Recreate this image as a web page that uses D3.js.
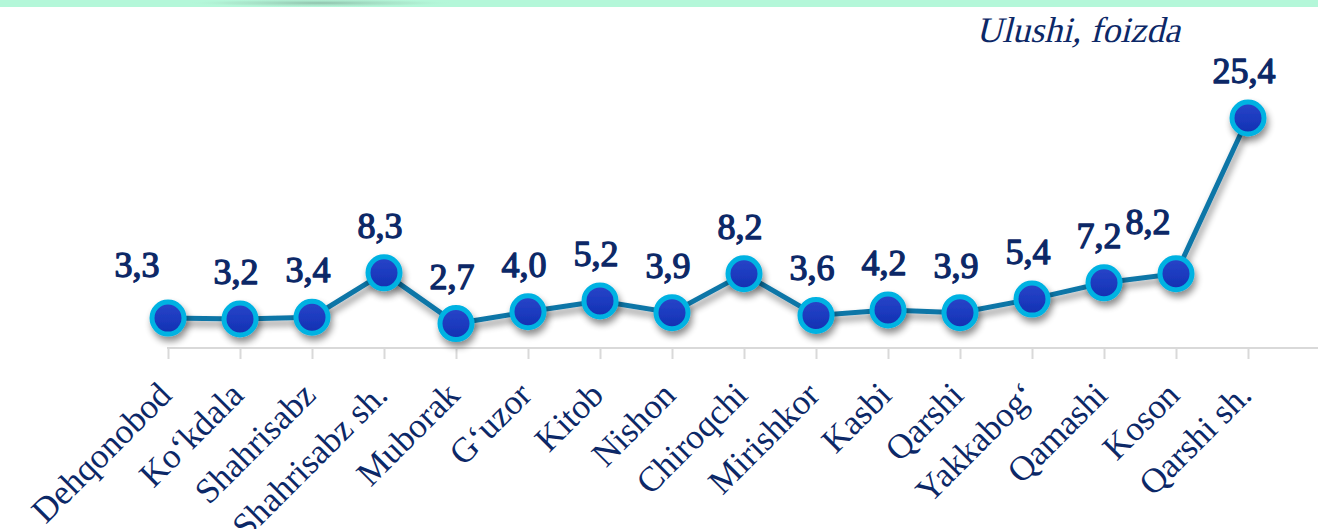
<!DOCTYPE html>
<html>
<head>
<meta charset="utf-8">
<script src="https://cdn.jsdelivr.net/npm/d3@7"></script>
</head>
<body style="margin:0">
<svg id="chart" width="1318" height="529" font-family="Liberation Serif"></svg>
<script>
// districts, in chart order
const districts = [
  'Dehqonobod', 'Ko‘kdala', 'Shahrisabz', 'Shahrisabz sh.', 'Muborak',
  'G‘uzor', 'Kitob', 'Nishon', 'Chiroqchi', 'Mirishkor', 'Kasbi',
  'Qarshi', 'Yakkabog‘', 'Qamashi', 'Koson', 'Qarshi sh.'
]
// share, percent
const shares = [3.3, 3.2, 3.4, 8.3, 2.7, 4.0, 5.2, 3.9, 8.2, 3.6, 4.2, 3.9, 5.4, 7.2, 8.2, 25.4]
const unitLabel = 'Ulushi, foizda'

// a few labels are moved aside in the original so they don't collide
const labelNudge = { 0: [-27, -6], 13: [-1, 0], 14: [-24, -5] }

const width = 1318
const navy = '#0c2867'
const font = 'Liberation Serif'

const svg = d3.select('#chart')
const defs = svg.append('defs')

// top mint band with a soft curved shadow
const bandGrad = defs.append('radialGradient').attr('id', 'bandShade')
bandGrad.append('stop').attr('offset', '0%').attr('stop-color', '#86b3a0').attr('stop-opacity', 0.8)
bandGrad.append('stop').attr('offset', '70%').attr('stop-color', '#a6dcc3').attr('stop-opacity', 0.4)
bandGrad.append('stop').attr('offset', '100%').attr('stop-color', '#b4f7d9').attr('stop-opacity', 0)

svg.append('rect')
    .attr('x', 0).attr('y', 0)
    .attr('width', width).attr('height', 7)
    .attr('fill', '#b4f7d9')
svg.append('ellipse')
    .attr('cx', 320).attr('cy', 3)
    .attr('rx', 135).attr('ry', 4)
    .attr('fill', 'url(#bandShade)')
svg.append('rect')
    .attr('x', 0).attr('y', 7)
    .attr('width', width).attr('height', 4)
    .attr('fill', '#fff')

// marker gradient and shadow
const dotGrad = defs.append('linearGradient').attr('id', 'dotFill')
    .attr('x1', 0).attr('y1', 0).attr('x2', 0).attr('y2', 1)
dotGrad.append('stop').attr('offset', '0%').attr('stop-color', '#2a45c8')
dotGrad.append('stop').attr('offset', '50%').attr('stop-color', '#1c3bc0')
dotGrad.append('stop').attr('offset', '100%').attr('stop-color', '#1330b0')

const shadow = defs.append('filter').attr('id', 'shadow')
    .attr('x', '-50%').attr('y', '-50%').attr('width', '200%').attr('height', '200%')
shadow.append('feGaussianBlur').attr('in', 'SourceAlpha').attr('stdDeviation', 3.5)
shadow.append('feOffset').attr('dx', 2).attr('dy', 5).attr('result', 'off')
shadow.append('feComponentTransfer').append('feFuncA').attr('type', 'linear').attr('slope', 0.45)
const merge = shadow.append('feMerge')
merge.append('feMergeNode')
merge.append('feMergeNode').attr('in', 'SourceGraphic')

// scales
const x = d3.scalePoint()
    .domain(districts)
    .range([168, 1248])

const y = d3.scaleLinear()
    .domain([0, 25.4])
    .range([348, 118])

// axis
const axis = svg.append('g')
    .attr('transform', 'translate(0,348)')
    .call(d3.axisBottom(x).tickSize(11).tickFormat(''))
axis.attr('font-family', font).attr('font-size', null)
axis.select('.domain').remove()
axis.selectAll('.tick line').attr('stroke', '#d9d9d9').attr('stroke-width', 2)
axis.append('line')
    .attr('x1', 167).attr('x2', width)
    .attr('stroke', '#d9d9d9').attr('stroke-width', 2)

axis.selectAll('.tick').append('text')
    .attr('fill', navy)
    .attr('font-family', font)
    .attr('font-size', 35)
    .attr('text-anchor', 'end')
    .attr('transform', 'translate(5,49) rotate(-45)')
    .text(d => d)

// line
const data = districts.map((d, i) => ({ name: d, value: shares[i], i }))

svg.append('path')
    .datum(data)
    .attr('fill', 'none')
    .attr('stroke', '#1176a7')
    .attr('stroke-width', 5)
    .attr('filter', 'url(#shadow)')
    .attr('d', d3.line().x(d => x(d.name)).y(d => y(d.value)))

// markers
svg.append('g').selectAll('circle')
    .data(data)
    .join('circle')
    .attr('cx', d => x(d.name))
    .attr('cy', d => y(d.value))
    .attr('r', 16)
    .attr('fill', 'url(#dotFill)')
    .attr('stroke', '#00b2e2')
    .attr('stroke-width', 5)
    .attr('filter', 'url(#shadow)')

// value labels (bold face is not picked up, so thicken the regular one)
svg.append('g')
    .attr('font-family', font)
    .attr('font-size', 36)
  .selectAll('text')
    .data(data)
    .join('text')
    .attr('x', d => x(d.name) - 4 + (labelNudge[d.i] ? labelNudge[d.i][0] : 0))
    .attr('y', d => y(d.value) - 35 + (labelNudge[d.i] ? labelNudge[d.i][1] : 0))
    .attr('text-anchor', 'middle')
    .attr('fill', navy)
    .attr('stroke', navy)
    .attr('stroke-width', 1.3)
    .attr('stroke-linejoin', 'round')
    .attr('font-family', font)
    .text(d => d3.format('.1f')(d.value).replace('.', ','))

// unit note, slanted by hand
svg.append('g')
    .attr('font-family', font)
    .attr('font-size', 36)
  .append('text')
    .attr('transform', 'translate(1180,42) skewX(-14)')
    .attr('text-anchor', 'end')
    .attr('fill', navy)
    .attr('font-family', font)
    .text(unitLabel)
</script>
</body>
</html>
